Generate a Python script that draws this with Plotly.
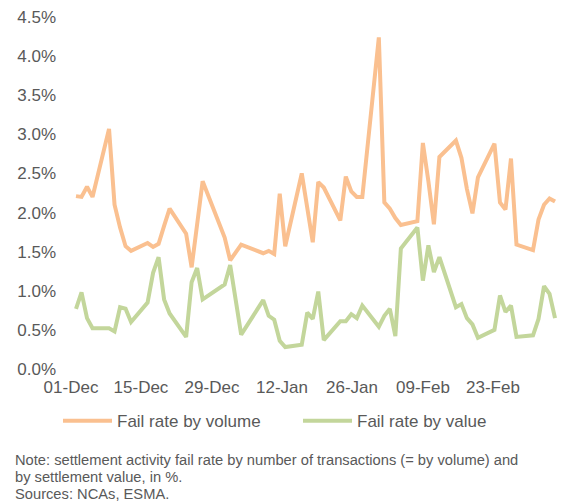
import plotly.graph_objects as go

dates = [
    "2020-12-01", "2020-12-02", "2020-12-03", "2020-12-04",
    "2020-12-07", "2020-12-08", "2020-12-09", "2020-12-10", "2020-12-11",
    "2020-12-14", "2020-12-15", "2020-12-16", "2020-12-17", "2020-12-18",
    "2020-12-21", "2020-12-22", "2020-12-23", "2020-12-24",
    "2020-12-28", "2020-12-29", "2020-12-31",
    "2021-01-04", "2021-01-05", "2021-01-06", "2021-01-07", "2021-01-08",
    "2021-01-11", "2021-01-12", "2021-01-13", "2021-01-14", "2021-01-15",
    "2021-01-18", "2021-01-19", "2021-01-20", "2021-01-21", "2021-01-22",
    "2021-01-25", "2021-01-26", "2021-01-27", "2021-01-28", "2021-01-29",
    "2021-02-01", "2021-02-02", "2021-02-03", "2021-02-04", "2021-02-05",
    "2021-02-08", "2021-02-09", "2021-02-10", "2021-02-11", "2021-02-12",
    "2021-02-15", "2021-02-16", "2021-02-17", "2021-02-18", "2021-02-19",
    "2021-02-22", "2021-02-23", "2021-02-24", "2021-02-25", "2021-02-26",
]

fail_rate_volume = [
    2.21, 2.20, 2.33, 2.20,
    3.07, 2.10, 1.81, 1.57, 1.51,
    1.61, 1.56, 1.60, 1.83, 2.05,
    1.73, 1.30, 1.85, 2.40,
    1.68, 1.39, 1.59,
    1.48, 1.51, 1.47, 2.24, 1.57,
    2.50, 2.06, 1.62, 2.39, 2.32,
    1.90, 2.46, 2.27, 2.20, 2.20,
    4.24, 2.13, 2.05, 1.93, 1.84,
    1.89, 2.89, 2.40, 1.85, 2.71,
    2.92, 2.70, 2.30, 1.99, 2.45,
    2.88, 2.13, 2.04, 2.69, 1.59,
    1.52, 1.91, 2.10, 2.18, 2.14,
]

fail_rate_value = [
    0.77, 0.98, 0.65, 0.52,
    0.52, 0.48, 0.79, 0.77, 0.60,
    0.85, 1.23, 1.43, 0.89, 0.71,
    0.41, 1.11, 1.29, 0.89,
    1.08, 1.33, 0.44,
    0.88, 0.68, 0.63, 0.36, 0.28,
    0.31, 0.72, 0.64, 0.99, 0.37,
    0.61, 0.61, 0.70, 0.65, 0.81,
    0.54, 0.68, 0.77, 0.42, 1.54,
    1.81, 1.13, 1.58, 1.24, 1.43,
    0.79, 0.83, 0.65, 0.57, 0.40,
    0.50, 0.94, 0.73, 0.81, 0.41,
    0.43, 0.64, 1.06, 0.96, 0.65,
]

tick_labels = ["01-Dec", "15-Dec", "29-Dec", "12-Jan", "26-Jan", "09-Feb", "23-Feb"]
tick_positions = [
    "2020-11-30 02:11", "2020-12-12 19:12", "2020-12-25 16:48",
    "2021-01-07 09:50", "2021-01-20 03:07", "2021-02-02 00:29",
    "2021-02-14 17:31",
]
y_ticks = [0, 0.5, 1.0, 1.5, 2.0, 2.5, 3.0, 3.5, 4.0, 4.5]
y_tick_labels = ["0.0%", "0.5%", "1.0%", "1.5%", "2.0%", "2.5%", "3.0%", "3.5%", "4.0%", "4.5%"]

note_lines = [
    "Note: settlement activity fail rate by number of transactions (= by volume) and",
    "by settlement value, in %.",
    "Sources: NCAs, ESMA.",
]
note_y = [-0.2585, -0.3068, -0.3551]

FONT = "Liberation Sans, Arial, sans-serif"
GREY = "#595959"

fig = go.Figure()
fig.add_trace(go.Scatter(x=dates, y=fail_rate_volume, mode="lines",
                         name="Fail rate by volume",
                         line=dict(color="#FAC090", width=4)))
fig.add_trace(go.Scatter(x=dates, y=fail_rate_value, mode="lines",
                         name="Fail rate by value",
                         line=dict(color="#C3D69B", width=4)))

annotations = [
    dict(text=t, xref="paper", yref="paper", x=-0.094, y=yy,
         xanchor="left", yanchor="middle", align="left", showarrow=False,
         font=dict(family=FONT, size=14.7, color=GREY))
    for t, yy in zip(note_lines, note_y)
]

fig.update_layout(
    width=562, height=493,
    margin=dict(l=52, r=10, t=9, b=132, autoexpand=False),
    paper_bgcolor="white", plot_bgcolor="white",
    font=dict(family=FONT, size=17, color=GREY),
    showlegend=True,
    legend=dict(orientation="h", x=-0.004, xanchor="left", y=-0.148, yanchor="middle",
                itemwidth=49,
                entrywidth=176, entrywidthmode="pixels",
                font=dict(family=FONT, size=17, color=GREY),
                bgcolor="rgba(0,0,0,0)"),
    xaxis=dict(type="date", range=["2020-11-28 02:15", "2021-02-26 21:40"],
               tickmode="array", tickvals=tick_positions, ticktext=tick_labels,
               showgrid=False, zeroline=False, showline=False, ticks="",
               automargin=False,
               ticklabelstandoff=6, ticklabeloverflow="allow",
               tickfont=dict(family=FONT, size=17, color=GREY)),
    yaxis=dict(range=[0, 4.5], tickmode="array", tickvals=y_ticks, ticktext=y_tick_labels,
               showgrid=False, zeroline=False, showline=False, ticks="",
               automargin=False,
               ticklabelstandoff=3, ticklabeloverflow="allow",
               tickfont=dict(family=FONT, size=17, color=GREY)),
    annotations=annotations,
)

fig.write_html("out.html")
